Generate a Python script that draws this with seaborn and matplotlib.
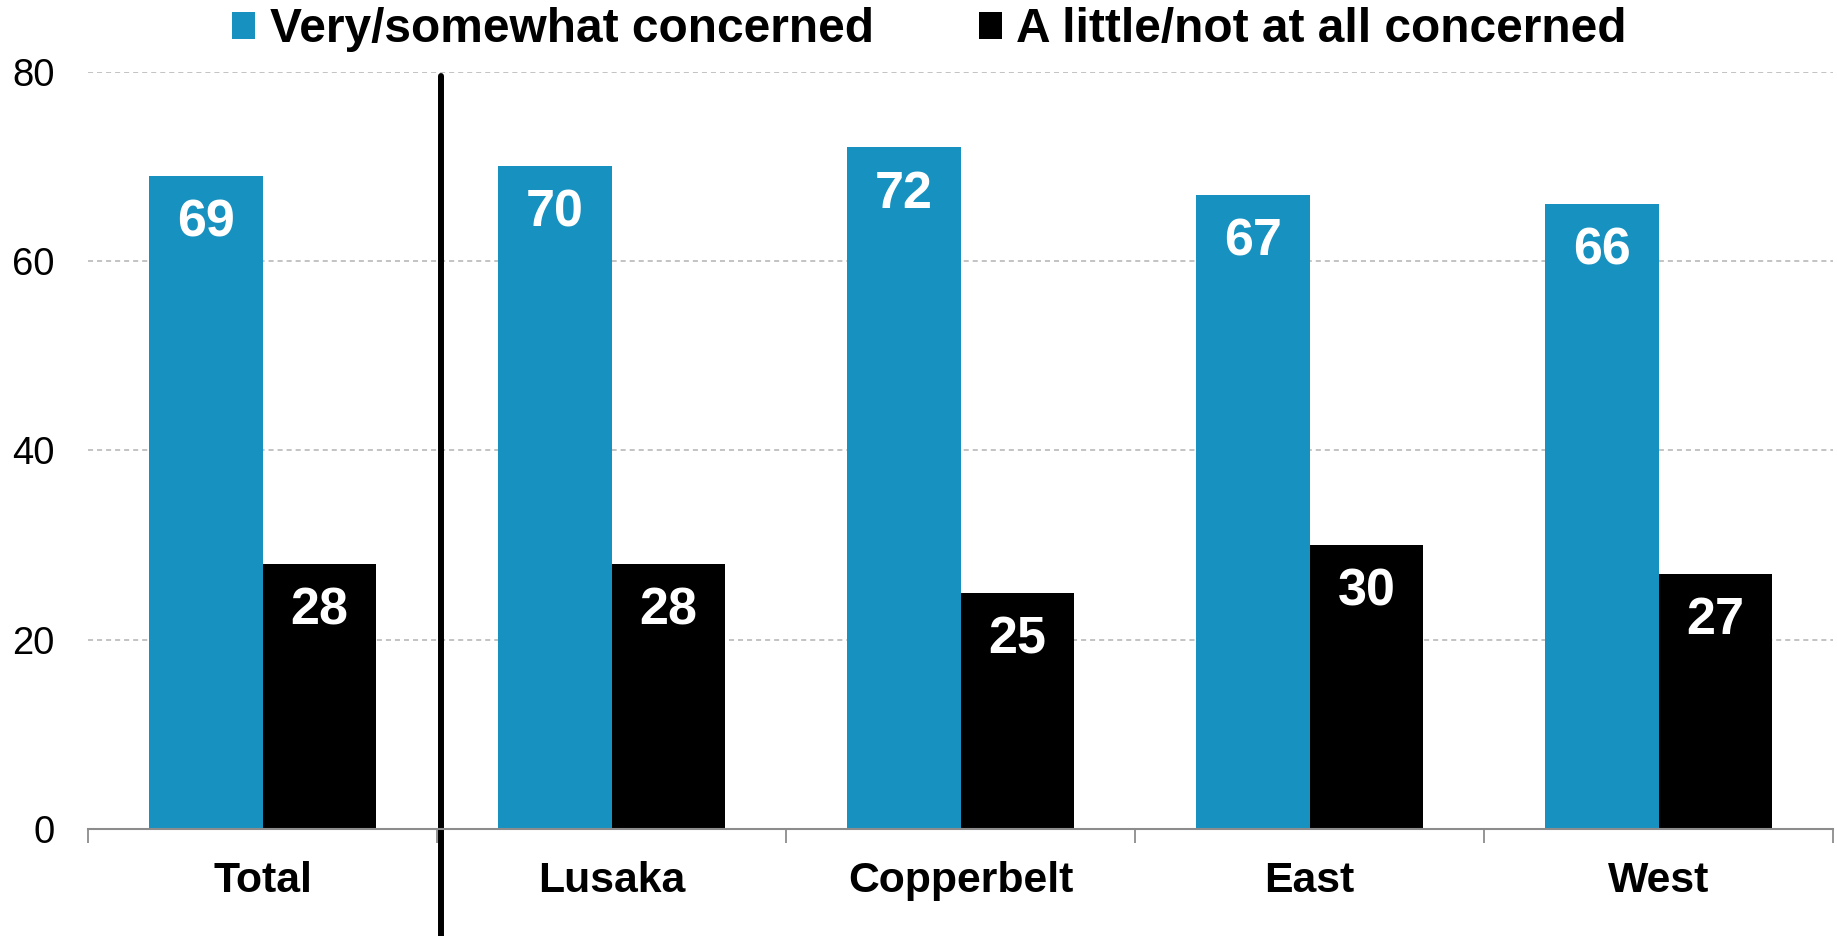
import pandas as pd
import matplotlib.pyplot as plt
from matplotlib.patches import Patch
import seaborn as sns

# ------------------------------------------------------------------
# data
# ------------------------------------------------------------------
regions = ['Total', 'Lusaka', 'Copperbelt', 'East', 'West']
very_somewhat = [69, 70, 72, 67, 66]
little_not = [28, 28, 25, 30, 27]
series_names = ['Very/somewhat concerned', 'A little/not at all concerned']
colors = ['#1792C0', '#000000']

df = pd.DataFrame({
    'Region': regions * 2,
    'Series': [series_names[0]] * len(regions) + [series_names[1]] * len(regions),
    'Value': very_somewhat + little_not,
})

sns.set_style('white')
plt.rcParams['font.family'] = ['Liberation Sans', 'DejaVu Sans']
plt.rcParams['text.color'] = 'black'
plt.rcParams['xtick.color'] = 'black'
plt.rcParams['ytick.color'] = 'black'

fig = plt.figure(figsize=(18.37, 9.36), dpi=100)
ax = fig.add_axes([0.0479, 0.1138, 0.9500, 0.8098])

sns.barplot(data=df, x='Region', y='Value', hue='Series', order=regions,
            hue_order=series_names, palette=colors, width=0.65,
            saturation=1, legend=False, linewidth=0, edgecolor='none', ax=ax)

ax.set_xlim(-0.5, len(regions) - 0.5)
ax.set_ylim(0, 80)
ax.set_yticks([0, 20, 40, 60, 80])
ax.set_xlabel('')
ax.set_ylabel('')

# dashed gridlines
ax.yaxis.grid(True, color='#BEBEBE', linestyle=(0, (2.8, 2.2)), linewidth=1.3)
ax.set_axisbelow(True)

for side in ['top', 'right', 'left']:
    ax.spines[side].set_visible(False)
ax.spines['bottom'].set_color('#8C8C8C')
ax.spines['bottom'].set_linewidth(1.5)

# tick marks at category boundaries
ax.set_xticks([i - 0.5 for i in range(len(regions) + 1)], minor=True)
ax.tick_params(axis='x', which='minor', bottom=True, length=10, width=1.3,
               color='#8C8C8C', direction='out')
ax.tick_params(axis='x', which='major', length=0, pad=23, labelsize=30.8,
               labelcolor='black')
ax.tick_params(axis='y', length=0, pad=24, labelsize=27.5, labelcolor='black')
for lab in ax.get_xticklabels():
    lab.set_fontweight('bold')

# value labels inside the top of each bar
for cont in ax.containers:
    for bar in cont:
        h = bar.get_height()
        ax.annotate(f'{h:.0f}', (bar.get_x() + bar.get_width() / 2, h),
                    xytext=(0, -34), textcoords='offset points',
                    ha='center', va='center', color='white',
                    fontsize=37.5, fontweight='bold')

# separator between Total and the regions
ax.axvline(0.51, ymin=-0.14, ymax=0.994, color='black', linewidth=4.3, clip_on=False)

# legend
handles = [Patch(facecolor=c, edgecolor='none') for c in colors]
fig.legend(handles, series_names, loc='center', bbox_to_anchor=(0.506, 0.968),
           ncol=2, frameon=False, handlelength=0.48, handleheight=0.48,
           handletextpad=0.3, columnspacing=2.2,
           prop={'size': 34.5, 'weight': 'bold'})

plt.savefig('out.png', dpi=100)
